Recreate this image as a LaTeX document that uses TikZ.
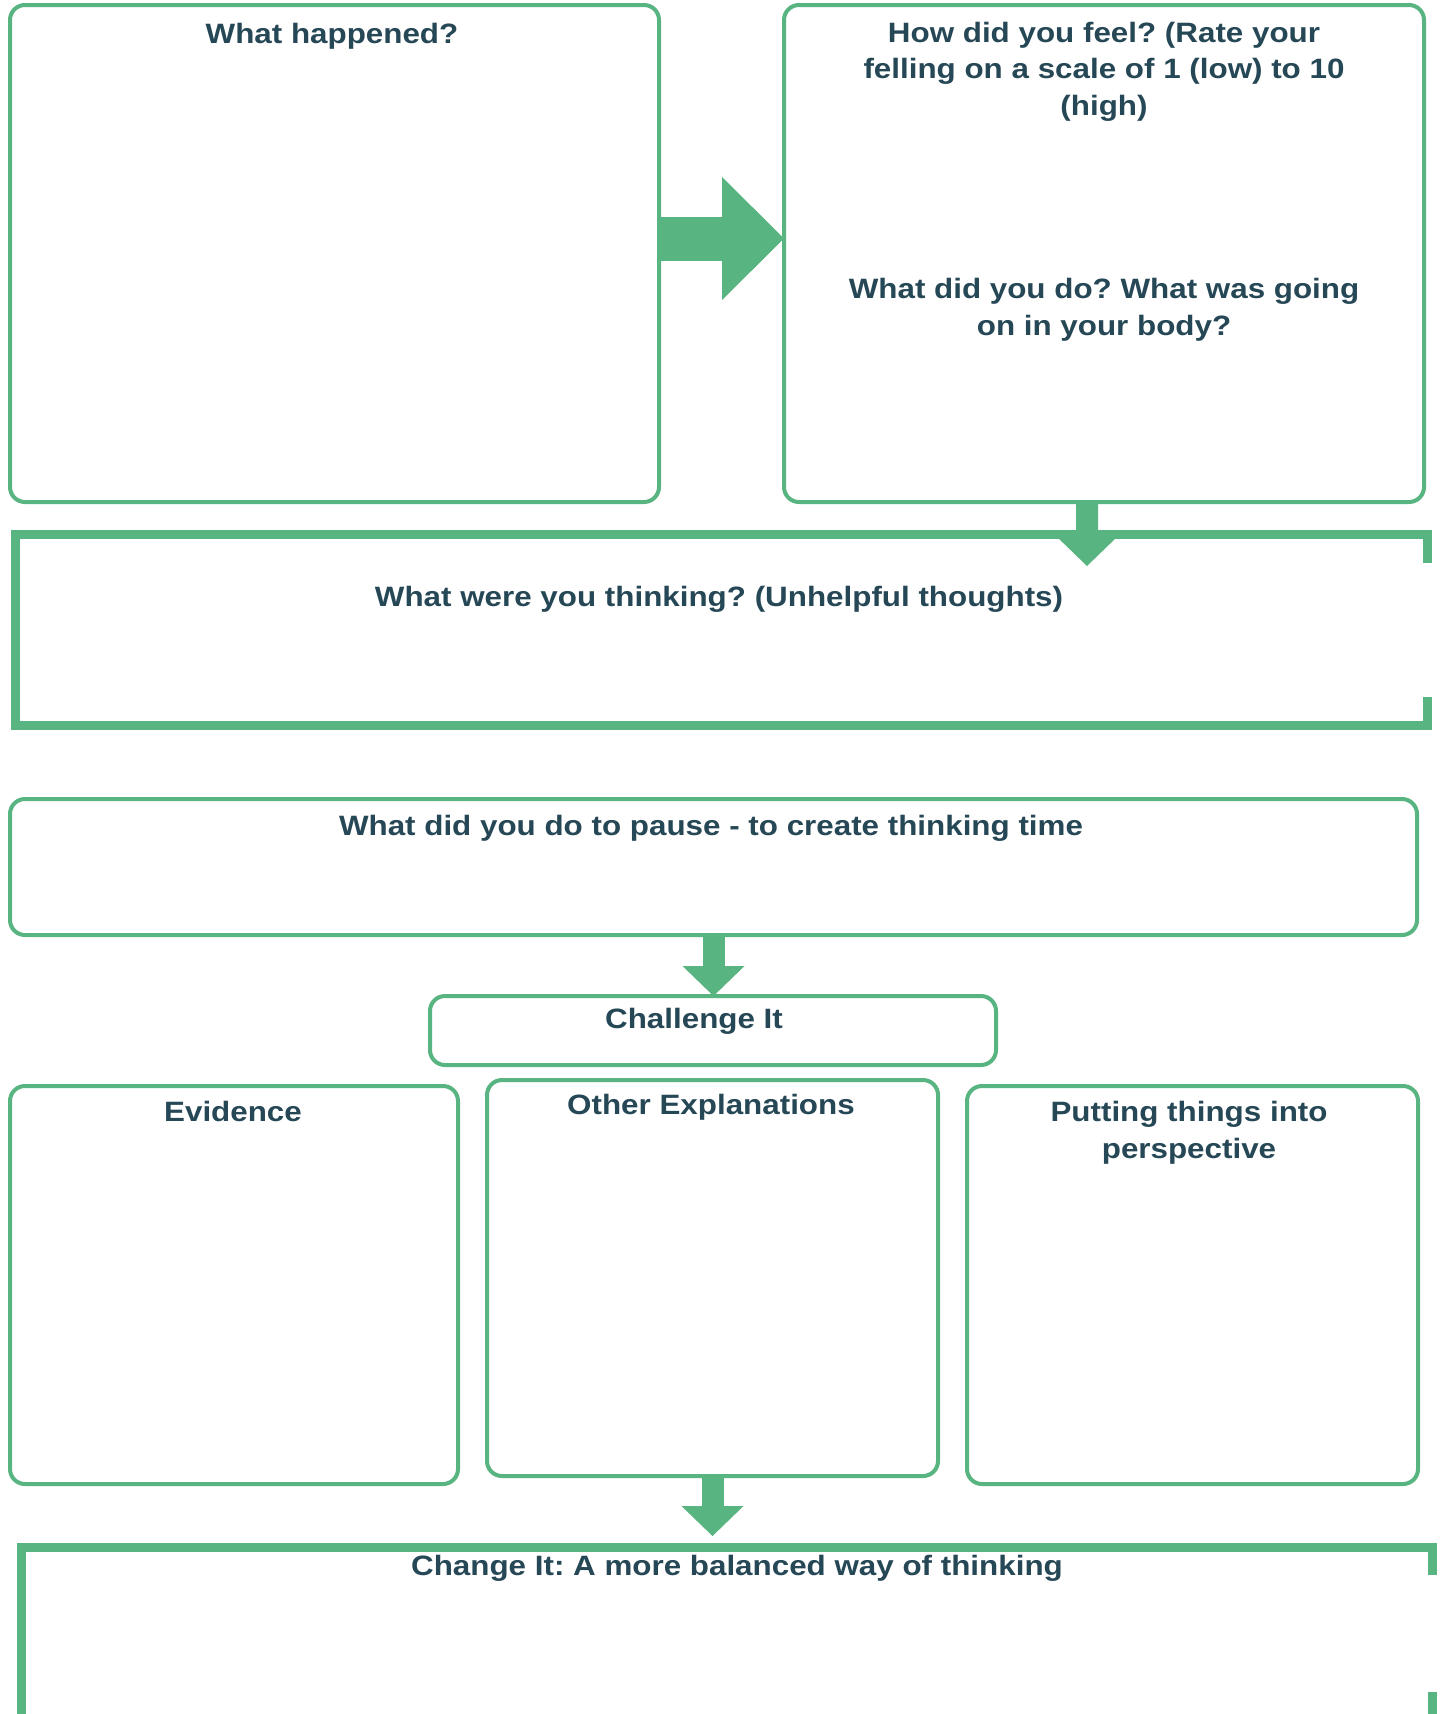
\documentclass[tikz,border=0pt]{standalone}
\usepackage{fontspec}
\setmainfont{Liberation Sans}[FakeStretch=1.12]
\usetikzlibrary{arrows.meta,calc}
\definecolor{cbtgreen}{RGB}{88,180,128}
\definecolor{cbttext}{RGB}{38,72,86}
\tikzset{
  box/.style={draw=cbtgreen, line width=4bp, rounded corners=15bp, anchor=north west,
    inner sep=0pt, outer sep=0pt},
  openbox/.style={anchor=north west, inner sep=0pt, outer sep=0pt},
  bracket/.style={draw=cbtgreen, line width=9bp},
  title/.style={text=cbttext, font=\frenchspacing\bfseries\fontsize{28bp}{36.5bp}\selectfont,
    align=center, anchor=base, inner sep=0pt},
  rightarrow/.style={cbtgreen, line width=44bp, -{Triangle[length=62bp,width=123bp,line width=0pt]}},
  downarrow/.style={cbtgreen, line width=22bp, -{Triangle[length=30bp,width=62bp,line width=0pt]}}
}
\begin{document}
\begin{tikzpicture}[x=1bp,y=-1bp]
    \useasboundingbox[fill=white] (0,0) rectangle (1445,1714);
    % top row
    \node[box, minimum width=649bp, minimum height=497bp] (happened) at (10,5) {};
    \node[box, minimum width=640bp, minimum height=497bp] (feel) at (784,5) {};
    \node[title] (happenedtxt) at (332,43) {What happened?};
    % multi-line titles sit on their last line
    \node[title] (feeltxt) at (1104,115) {How did you feel? (Rate your\\felling on a scale of 1 (low) to 10\\(high)};
    \node[title] (dotxt) at (1104,335) {What did you do? What was going\\on in your body?};
    \draw[rightarrow] ([yshift=15bp]happened.east) -- ([yshift=15bp]feel.west);
    % thoughts
    \node[openbox, minimum width=1412bp, minimum height=191bp] (thinking) at (15,534) {};
    \draw[bracket] ([yshift=-29bp]thinking.north east) -- (thinking.north east) -- (thinking.north west)
        -- (thinking.south west) -- (thinking.south east) -- ([yshift=28bp]thinking.south east);
    \node[title] (thinkingtxt) at (719,606) {What were you thinking? (Unhelpful thoughts)};
    \draw[downarrow] ([xshift=-17bp]feel.south) -- ($(feel.south |- thinking.north)+(-17,32)$);
    % pause
    \node[box, minimum width=1407bp, minimum height=136bp] (pause) at (10,799) {};
    \node[title] (pausetxt) at (711,835) {What did you do to pause - to create thinking time};
    \node[box, minimum width=566bp, minimum height=69bp] (challenge) at (430,996) {};
    \node[title] (challengetxt) at (694,1028) {Challenge It};
    \draw[downarrow] (pause.south) -- (pause.south |- challenge.north);
    % challenge boxes
    \node[box, minimum width=448bp, minimum height=398bp] (evidence) at (10,1086) {};
    \node[box, minimum width=451bp, minimum height=396bp] (other) at (487,1080) {};
    \node[box, minimum width=451bp, minimum height=398bp] (perspective) at (967,1086) {};
    \node[title] (evidencetxt) at (233,1121) {Evidence};
    \node[title] (othertxt) at (711,1114) {Other Explanations};
    \node[title] (perspectivetxt) at (1189,1158) {Putting things into\\perspective};
    % change it
    \node[openbox, minimum width=1411bp, minimum height=167bp] (change) at (21,1547) {};
    \draw[bracket] ([yshift=-28bp]change.north east) -- (change.north east) -- (change.north west)
        -- (change.south west);
    \draw[bracket] (change.south east) -- ++(0,-22);
    \node[title] (changetxt) at (737,1575) {Change It: A more balanced way of thinking};
    \draw[downarrow] (other.south) -- ($(other.south |- change.north)+(0,-11)$);
\end{tikzpicture}
\end{document}
